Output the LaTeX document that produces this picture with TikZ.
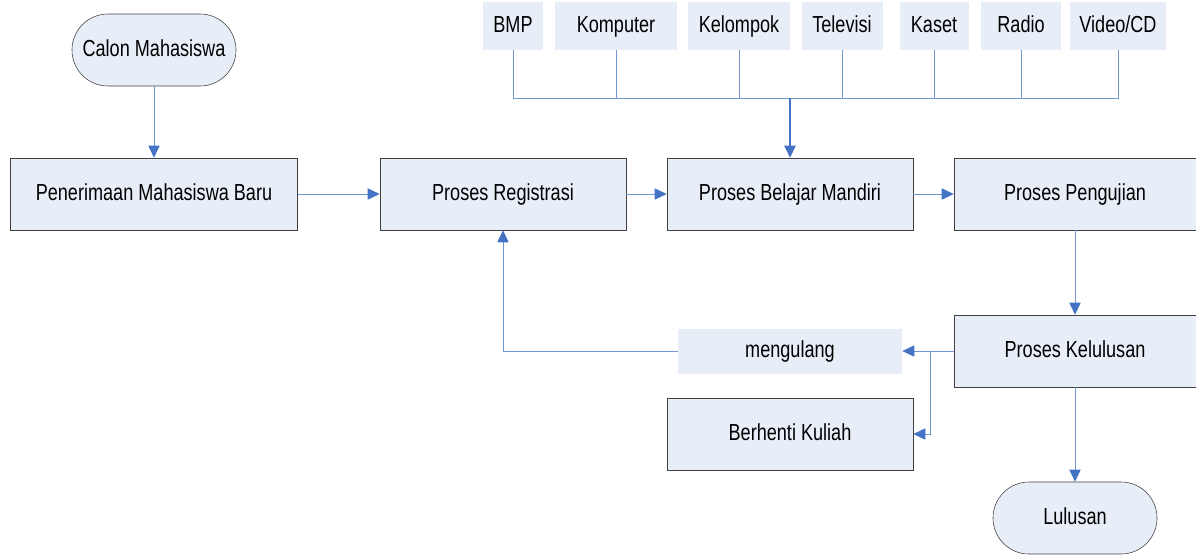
\documentclass[tikz,border=0pt]{standalone}
\usepackage{fontspec}
\setmainfont[FakeStretch=0.78]{Liberation Sans}
\usepackage{tikz}
\usetikzlibrary{arrows.meta,positioning,calc}
\definecolor{boxfill}{HTML}{E8EEF8}
\definecolor{boxline}{HTML}{404040}
\definecolor{wireblue}{HTML}{6F98D2}
\definecolor{tipblue}{HTML}{4472C4}

\begin{document}
\begin{tikzpicture}[x=0.025cm, y=-0.025cm,
  proc/.style={draw=boxline, fill=boxfill, align=center, inner sep=2pt,
    font=\fontsize{16.5}{19}\selectfont, text height=1.05em, text depth=0.12em,
    minimum height=1.8cm, minimum width=6.15cm},
  term/.style={proc, rounded corners=0.9cm, minimum width=4.1cm, minimum height=1.8cm},
  media/.style={fill=boxfill, align=center, inner sep=1pt,
    font=\fontsize{16.5}{19}\selectfont, text height=1.05em, text depth=0.12em,
    minimum height=1.2cm},
  wire/.style={draw=wireblue, line width=0.7pt},
  arr/.style={wire, -{Triangle[length=3mm, width=2.8mm, color=tipblue]}},
]
\useasboundingbox (0,0) rectangle (1196,555);
% --- terminals ---
\node[term] (calon) at (154,50) {Calon Mahasiswa};
\node[term] (lulusan) at (1075,518) {Lulusan};
% --- process boxes ---
\node[proc, minimum width=7.175cm] (terima) at (154,194) {Penerimaan Mahasiswa Baru};
\node[proc] (regis) at (503,194) {Proses Registrasi};
\node[proc] (belajar) at (790,194) {Proses Belajar Mandiri};
\node[proc, minimum width=6.05cm] (uji) at (1075,194) {Proses Pengujian};
\node[proc, minimum width=6.05cm] (lulus) at (1075,351) {Proses Kelulusan};
\node[media, minimum width=5.6cm, minimum height=1.125cm] (ulang) at (790,351) {mengulang};
\node[proc] (henti) at (790,434) {Berhenti Kuliah};
% --- media ---
\node[media, minimum width=1.5cm] (bmp) at (513,26) {BMP};
\node[media, minimum width=3.05cm] (komputer) at (616,26) {Komputer};
\node[media, minimum width=2.55cm] (kelompok) at (739,26) {Kelompok};
\node[media, minimum width=2.025cm] (tv) at (842,26) {Televisi};
\node[media, minimum width=1.725cm] (kaset) at (934,26) {Kaset};
\node[media, minimum width=2.0cm] (radio) at (1021,26) {Radio};
\node[media, minimum width=2.4cm] (video) at (1118,26) {Video/CD};
\coordinate (bus) at (790,98);
\coordinate (split) at (930,351);
% --- media bus ---
\foreach \m in {bmp,komputer,kelompok,tv,kaset,radio,video}
  \draw[wire] (\m.south) |- (bus);
\draw[arr, line width=1.1pt, draw=tipblue] (bus) -- (belajar.north);
% --- main flow ---
\draw[arr] (calon.south) -- (terima.north);
\draw[arr] (terima.east) -- (regis.west);
\draw[arr] (regis.east) -- (belajar.west);
\draw[arr] (belajar.east) -- (uji.west);
\draw[arr] (uji.south) -- (lulus.north);
\draw[arr] (lulus.south) -- (lulusan.north);
% --- outcomes ---
\draw[arr] (lulus.west) -- (ulang.east);
\draw[arr] (split) |- (henti.east);
\draw[arr] (ulang.west) -| (regis.south);
\end{tikzpicture}
\end{document}
